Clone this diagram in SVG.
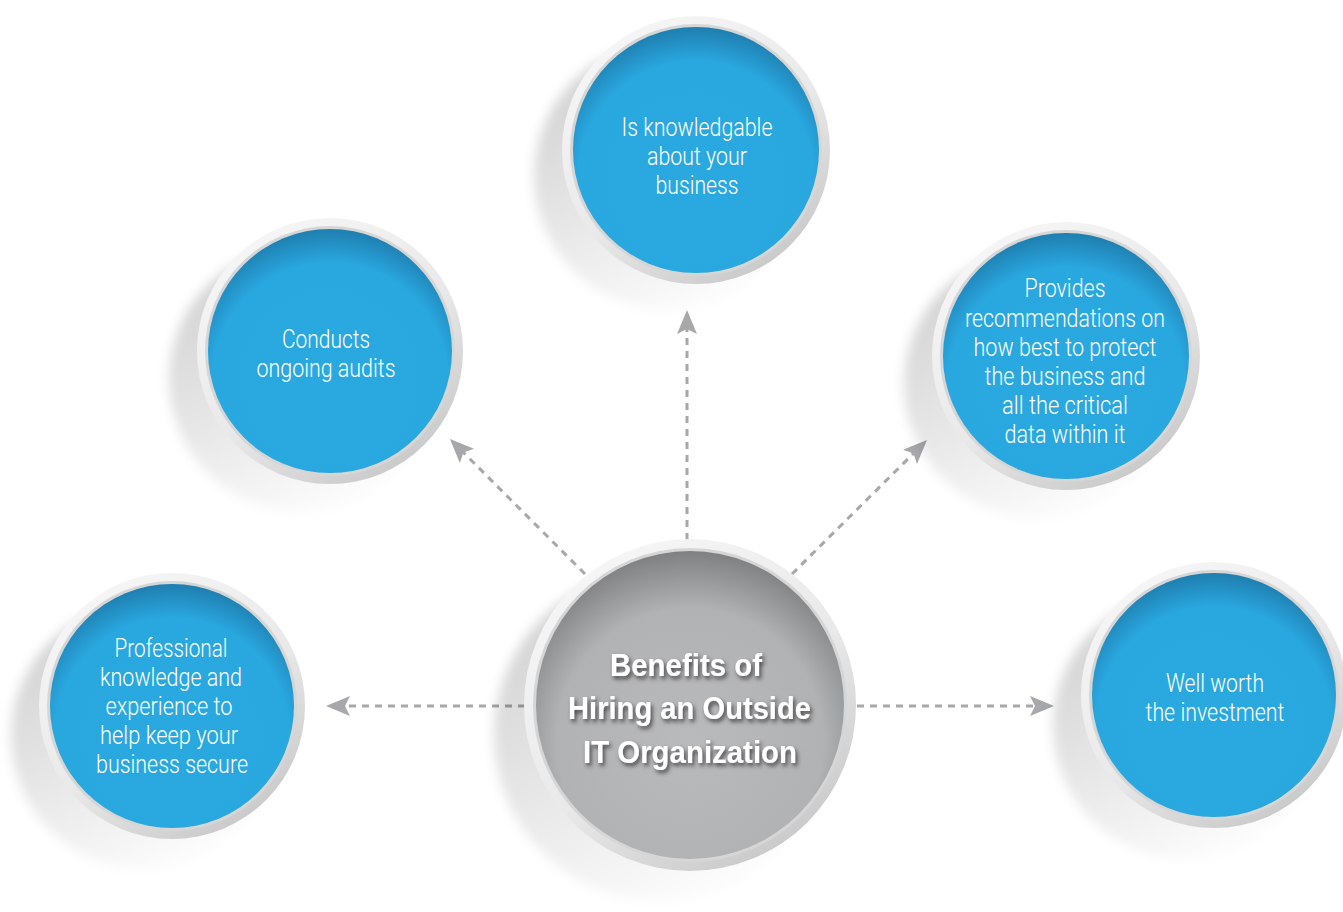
<svg xmlns="http://www.w3.org/2000/svg" width="1343" height="912" viewBox="0 0 1343 912">
  <defs>
    <style>
      .shadow { fill: url(#shadowGrad); filter: url(#soft); }
      .ring { fill: url(#ringGrad); }
      .edge { fill: #d6d6d6; }
      .disc { fill: url(#blueGrad); }
      .hub { fill: url(#greyGrad); }
      .label { font-family: Roboto, "Liberation Sans", sans-serif; font-weight: 300; font-size: 25px; fill: #ffffff; text-anchor: middle; }
      .title { font-family: "Liberation Sans", Arial, sans-serif; font-weight: bold; font-size: 32px; fill: #ffffff; text-anchor: middle; filter: url(#textShadow); }
      .link { fill: none; stroke: #a6a8ab; stroke-width: 3; stroke-dasharray: 7 6; marker-end: url(#arrow); }
    </style>
    <linearGradient id="ringGrad" x1="0.2" y1="0.05" x2="0.8" y2="0.95">
      <stop offset="0" stop-color="#f6f6f6"/>
      <stop offset="0.55" stop-color="#e9e9e9"/>
      <stop offset="1" stop-color="#c8c8c8"/>
    </linearGradient>
    <!-- cast shadow: strongest up-left, fading toward the bottom -->
    <linearGradient id="shadowGrad" x1="0.15" y1="0.2" x2="0.6" y2="1">
      <stop offset="0" stop-color="#000" stop-opacity="0.16"/>
      <stop offset="0.6" stop-color="#000" stop-opacity="0.07"/>
      <stop offset="1" stop-color="#000" stop-opacity="0.01"/>
    </linearGradient>
    <radialGradient id="blueGrad" cx="0.5" cy="0.62" r="0.62">
      <stop offset="0" stop-color="#2aa9e1"/>
      <stop offset="0.78" stop-color="#29a7df"/>
      <stop offset="1" stop-color="#1f7eaf"/>
    </radialGradient>
    <radialGradient id="greyGrad" cx="0.5" cy="0.62" r="0.62">
      <stop offset="0" stop-color="#b9babc"/>
      <stop offset="0.7" stop-color="#b1b2b4"/>
      <stop offset="1" stop-color="#7f8082"/>
    </radialGradient>
    <filter id="soft" x="-20%" y="-20%" width="140%" height="140%">
      <feGaussianBlur stdDeviation="6"/>
    </filter>
    <filter id="textShadow" x="-20%" y="-40%" width="140%" height="180%">
      <feDropShadow dx="2" dy="3" stdDeviation="2" flood-color="#333333" flood-opacity="0.85"/>
    </filter>
    <marker id="arrow" markerUnits="userSpaceOnUse" markerWidth="26" markerHeight="22" refX="5" refY="10" orient="auto">
      <path d="M24,10 L0,0 L5,10 L0,20 Z" fill="#a6a8ab"/>
    </marker>
  </defs>

  <rect width="1343" height="912" fill="#ffffff"/>

  <!-- dashed arrows radiating from the hub -->
  <g id="connectors">
    <line class="link" x1="687" y1="540" x2="687" y2="329"/>
    <line class="link" x1="585" y1="574" x2="463.4" y2="452.4"/>
    <line class="link" x1="792" y1="574" x2="913.5" y2="453.4"/>
    <line class="link" x1="525" y1="706" x2="345" y2="706"/>
    <line class="link" x1="857" y1="706" x2="1035" y2="706"/>
  </g>

  <g id="node-knowledgable">
    <circle class="shadow" cx="668" cy="176" r="134"/>
    <circle class="ring" cx="696" cy="150" r="134"/>
    <circle class="edge" cx="696" cy="150" r="126"/>
    <circle class="disc" cx="696" cy="150" r="123"/>
    <text class="label" x="697" y="136" textLength="151" lengthAdjust="spacingAndGlyphs">Is knowledgable</text>
    <text class="label" x="697" y="165" textLength="100" lengthAdjust="spacingAndGlyphs">about your</text>
    <text class="label" x="697" y="194" textLength="83" lengthAdjust="spacingAndGlyphs">business</text>
  </g>

  <g id="node-audits">
    <circle class="shadow" cx="302" cy="379" r="133"/>
    <circle class="ring" cx="330" cy="351" r="133"/>
    <circle class="edge" cx="330" cy="351" r="125"/>
    <circle class="disc" cx="330" cy="351" r="122"/>
    <text class="label" x="326" y="348" textLength="88" lengthAdjust="spacingAndGlyphs">Conducts</text>
    <text class="label" x="326" y="377" textLength="139" lengthAdjust="spacingAndGlyphs">ongoing audits</text>
  </g>

  <g id="node-recommendations">
    <circle class="shadow" cx="1038" cy="384" r="134"/>
    <circle class="ring" cx="1066" cy="356" r="134"/>
    <circle class="edge" cx="1066" cy="356" r="126"/>
    <circle class="disc" cx="1066" cy="356" r="123"/>
    <text class="label" x="1065" y="297" textLength="81" lengthAdjust="spacingAndGlyphs">Provides</text>
    <text class="label" x="1065" y="327" textLength="200" lengthAdjust="spacingAndGlyphs">recommendations on</text>
    <text class="label" x="1065" y="356" textLength="183" lengthAdjust="spacingAndGlyphs">how best to protect</text>
    <text class="label" x="1065" y="385" textLength="161" lengthAdjust="spacingAndGlyphs">the business and</text>
    <text class="label" x="1065" y="414" textLength="126" lengthAdjust="spacingAndGlyphs">all the critical</text>
    <text class="label" x="1065" y="443" textLength="121" lengthAdjust="spacingAndGlyphs">data within it</text>
  </g>

  <g id="node-professional">
    <circle class="shadow" cx="144" cy="736" r="133"/>
    <circle class="ring" cx="172" cy="706" r="133"/>
    <circle class="edge" cx="172" cy="706" r="125"/>
    <circle class="disc" cx="172" cy="706" r="122"/>
    <text class="label" x="171" y="657" textLength="113" lengthAdjust="spacingAndGlyphs">Professional</text>
    <text class="label" x="171" y="686" textLength="142" lengthAdjust="spacingAndGlyphs">knowledge and</text>
    <text class="label" x="169" y="715" textLength="127" lengthAdjust="spacingAndGlyphs">experience to</text>
    <text class="label" x="169" y="744" textLength="138" lengthAdjust="spacingAndGlyphs">help keep your</text>
    <text class="label" x="172" y="773" textLength="152" lengthAdjust="spacingAndGlyphs">business secure</text>
  </g>

  <g id="node-investment">
    <circle class="shadow" cx="1186" cy="726" r="133"/>
    <circle class="ring" cx="1214" cy="695" r="133"/>
    <circle class="edge" cx="1214" cy="695" r="125"/>
    <circle class="disc" cx="1214" cy="695" r="122"/>
    <text class="label" x="1215" y="692" textLength="98" lengthAdjust="spacingAndGlyphs">Well worth</text>
    <text class="label" x="1215" y="721" textLength="139" lengthAdjust="spacingAndGlyphs">the investment</text>
  </g>

  <g id="node-hub">
    <circle class="shadow" cx="660" cy="735" r="166"/>
    <circle class="ring" cx="690" cy="705" r="166"/>
    <circle class="edge" cx="690" cy="705" r="157"/>
    <circle class="hub" cx="690" cy="705" r="154"/>
    <text class="title" x="686" y="676" textLength="152" lengthAdjust="spacingAndGlyphs">Benefits of</text>
    <text class="title" x="689.5" y="719" textLength="243" lengthAdjust="spacingAndGlyphs">Hiring an Outside</text>
    <text class="title" x="690" y="763" textLength="214" lengthAdjust="spacingAndGlyphs">IT Organization</text>
  </g>
</svg>
